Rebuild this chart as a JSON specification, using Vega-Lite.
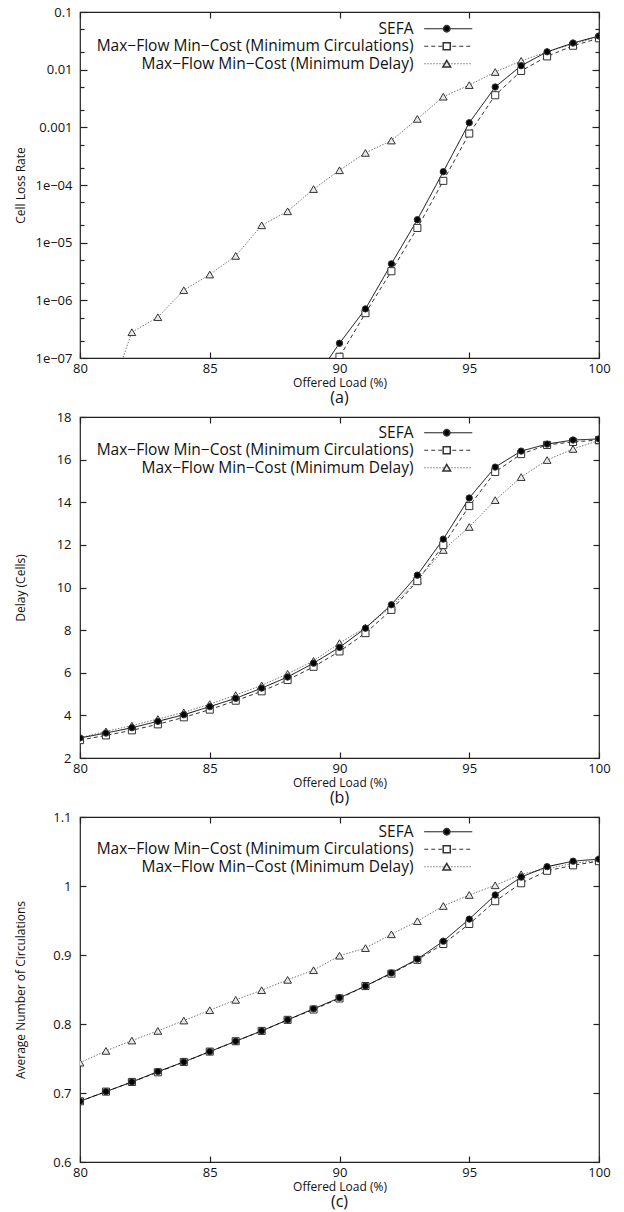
{
  "$schema": "https://vega.github.io/schema/vega-lite/v6.json",
  "background": "white",
  "padding": {"left": 13, "top": 5, "right": 5, "bottom": 0},
  "bounds": "flush",
  "spacing": 59,
  "datasets": {
    "loss": [
      {"load": 81, "value": 1.5e-8, "series": "Max−Flow Min−Cost (Minimum Delay)", "marker": "open triangle"},
      {"load": 82, "value": 2.8e-7, "series": "Max−Flow Min−Cost (Minimum Delay)", "marker": "open triangle"},
      {"load": 83, "value": 5.1e-7, "series": "Max−Flow Min−Cost (Minimum Delay)", "marker": "open triangle"},
      {"load": 84, "value": 1.5e-6, "series": "Max−Flow Min−Cost (Minimum Delay)", "marker": "open triangle"},
      {"load": 85, "value": 2.8e-6, "series": "Max−Flow Min−Cost (Minimum Delay)", "marker": "open triangle"},
      {"load": 86, "value": 5.9e-6, "series": "Max−Flow Min−Cost (Minimum Delay)", "marker": "open triangle"},
      {"load": 87, "value": 2.0e-5, "series": "Max−Flow Min−Cost (Minimum Delay)", "marker": "open triangle"},
      {"load": 88, "value": 3.5e-5, "series": "Max−Flow Min−Cost (Minimum Delay)", "marker": "open triangle"},
      {"load": 89, "value": 8.5e-5, "series": "Max−Flow Min−Cost (Minimum Delay)", "marker": "open triangle"},
      {"load": 90, "value": 1.8e-4, "series": "Max−Flow Min−Cost (Minimum Delay)", "marker": "open triangle"},
      {"load": 91, "value": 3.6e-4, "series": "Max−Flow Min−Cost (Minimum Delay)", "marker": "open triangle"},
      {"load": 92, "value": 5.9e-4, "series": "Max−Flow Min−Cost (Minimum Delay)", "marker": "open triangle"},
      {"load": 93, "value": 1.4e-3, "series": "Max−Flow Min−Cost (Minimum Delay)", "marker": "open triangle"},
      {"load": 94, "value": 3.4e-3, "series": "Max−Flow Min−Cost (Minimum Delay)", "marker": "open triangle"},
      {"load": 95, "value": 5.4e-3, "series": "Max−Flow Min−Cost (Minimum Delay)", "marker": "open triangle"},
      {"load": 96, "value": 9.1e-3, "series": "Max−Flow Min−Cost (Minimum Delay)", "marker": "open triangle"},
      {"load": 97, "value": 0.0142, "series": "Max−Flow Min−Cost (Minimum Delay)", "marker": "open triangle"},
      {"load": 98, "value": 0.0204, "series": "Max−Flow Min−Cost (Minimum Delay)", "marker": "open triangle"},
      {"load": 99, "value": 0.028, "series": "Max−Flow Min−Cost (Minimum Delay)", "marker": "open triangle"},
      {"load": 100, "value": 0.037, "series": "Max−Flow Min−Cost (Minimum Delay)", "marker": "open triangle"},
      {"load": 89, "value": 1.5e-8, "series": "Max−Flow Min−Cost (Minimum Circulations)", "marker": "open square"},
      {"load": 90, "value": 1.05e-7, "series": "Max−Flow Min−Cost (Minimum Circulations)", "marker": "open square"},
      {"load": 91, "value": 6.0e-7, "series": "Max−Flow Min−Cost (Minimum Circulations)", "marker": "open square"},
      {"load": 92, "value": 3.2e-6, "series": "Max−Flow Min−Cost (Minimum Circulations)", "marker": "open square"},
      {"load": 93, "value": 1.8e-5, "series": "Max−Flow Min−Cost (Minimum Circulations)", "marker": "open square"},
      {"load": 94, "value": 1.18e-4, "series": "Max−Flow Min−Cost (Minimum Circulations)", "marker": "open square"},
      {"load": 95, "value": 7.8e-4, "series": "Max−Flow Min−Cost (Minimum Circulations)", "marker": "open square"},
      {"load": 96, "value": 3.6e-3, "series": "Max−Flow Min−Cost (Minimum Circulations)", "marker": "open square"},
      {"load": 97, "value": 0.0095, "series": "Max−Flow Min−Cost (Minimum Circulations)", "marker": "open square"},
      {"load": 98, "value": 0.017, "series": "Max−Flow Min−Cost (Minimum Circulations)", "marker": "open square"},
      {"load": 99, "value": 0.026, "series": "Max−Flow Min−Cost (Minimum Circulations)", "marker": "open square"},
      {"load": 100, "value": 0.035, "series": "Max−Flow Min−Cost (Minimum Circulations)", "marker": "open square"},
      {"load": 89, "value": 4e-8, "series": "SEFA", "marker": "filled circle"},
      {"load": 90, "value": 1.8e-7, "series": "SEFA", "marker": "filled circle"},
      {"load": 91, "value": 7.1e-7, "series": "SEFA", "marker": "filled circle"},
      {"load": 92, "value": 4.3e-6, "series": "SEFA", "marker": "filled circle"},
      {"load": 93, "value": 2.5e-5, "series": "SEFA", "marker": "filled circle"},
      {"load": 94, "value": 1.7e-4, "series": "SEFA", "marker": "filled circle"},
      {"load": 95, "value": 1.2e-3, "series": "SEFA", "marker": "filled circle"},
      {"load": 96, "value": 5.0e-3, "series": "SEFA", "marker": "filled circle"},
      {"load": 97, "value": 0.0117, "series": "SEFA", "marker": "filled circle"},
      {"load": 98, "value": 0.0204, "series": "SEFA", "marker": "filled circle"},
      {"load": 99, "value": 0.029, "series": "SEFA", "marker": "filled circle"},
      {"load": 100, "value": 0.0384, "series": "SEFA", "marker": "filled circle"}
    ],
    "delay": [
      {"load": 80, "value": 2.95, "series": "Max−Flow Min−Cost (Minimum Delay)", "marker": "open triangle"},
      {"load": 81, "value": 3.25, "series": "Max−Flow Min−Cost (Minimum Delay)", "marker": "open triangle"},
      {"load": 82, "value": 3.52, "series": "Max−Flow Min−Cost (Minimum Delay)", "marker": "open triangle"},
      {"load": 83, "value": 3.83, "series": "Max−Flow Min−Cost (Minimum Delay)", "marker": "open triangle"},
      {"load": 84, "value": 4.14, "series": "Max−Flow Min−Cost (Minimum Delay)", "marker": "open triangle"},
      {"load": 85, "value": 4.53, "series": "Max−Flow Min−Cost (Minimum Delay)", "marker": "open triangle"},
      {"load": 86, "value": 4.95, "series": "Max−Flow Min−Cost (Minimum Delay)", "marker": "open triangle"},
      {"load": 87, "value": 5.41, "series": "Max−Flow Min−Cost (Minimum Delay)", "marker": "open triangle"},
      {"load": 88, "value": 5.95, "series": "Max−Flow Min−Cost (Minimum Delay)", "marker": "open triangle"},
      {"load": 89, "value": 6.56, "series": "Max−Flow Min−Cost (Minimum Delay)", "marker": "open triangle"},
      {"load": 90, "value": 7.39, "series": "Max−Flow Min−Cost (Minimum Delay)", "marker": "open triangle"},
      {"load": 91, "value": 8.12, "series": "Max−Flow Min−Cost (Minimum Delay)", "marker": "open triangle"},
      {"load": 92, "value": 9.1, "series": "Max−Flow Min−Cost (Minimum Delay)", "marker": "open triangle"},
      {"load": 93, "value": 10.35, "series": "Max−Flow Min−Cost (Minimum Delay)", "marker": "open triangle"},
      {"load": 94, "value": 11.76, "series": "Max−Flow Min−Cost (Minimum Delay)", "marker": "open triangle"},
      {"load": 95, "value": 12.84, "series": "Max−Flow Min−Cost (Minimum Delay)", "marker": "open triangle"},
      {"load": 96, "value": 14.1, "series": "Max−Flow Min−Cost (Minimum Delay)", "marker": "open triangle"},
      {"load": 97, "value": 15.18, "series": "Max−Flow Min−Cost (Minimum Delay)", "marker": "open triangle"},
      {"load": 98, "value": 15.98, "series": "Max−Flow Min−Cost (Minimum Delay)", "marker": "open triangle"},
      {"load": 99, "value": 16.5, "series": "Max−Flow Min−Cost (Minimum Delay)", "marker": "open triangle"},
      {"load": 100, "value": 16.9, "series": "Max−Flow Min−Cost (Minimum Delay)", "marker": "open triangle"},
      {"load": 80, "value": 2.84, "series": "Max−Flow Min−Cost (Minimum Circulations)", "marker": "open square"},
      {"load": 81, "value": 3.06, "series": "Max−Flow Min−Cost (Minimum Circulations)", "marker": "open square"},
      {"load": 82, "value": 3.30, "series": "Max−Flow Min−Cost (Minimum Circulations)", "marker": "open square"},
      {"load": 83, "value": 3.58, "series": "Max−Flow Min−Cost (Minimum Circulations)", "marker": "open square"},
      {"load": 84, "value": 3.91, "series": "Max−Flow Min−Cost (Minimum Circulations)", "marker": "open square"},
      {"load": 85, "value": 4.27, "series": "Max−Flow Min−Cost (Minimum Circulations)", "marker": "open square"},
      {"load": 86, "value": 4.69, "series": "Max−Flow Min−Cost (Minimum Circulations)", "marker": "open square"},
      {"load": 87, "value": 5.13, "series": "Max−Flow Min−Cost (Minimum Circulations)", "marker": "open square"},
      {"load": 88, "value": 5.66, "series": "Max−Flow Min−Cost (Minimum Circulations)", "marker": "open square"},
      {"load": 89, "value": 6.28, "series": "Max−Flow Min−Cost (Minimum Circulations)", "marker": "open square"},
      {"load": 90, "value": 7.0, "series": "Max−Flow Min−Cost (Minimum Circulations)", "marker": "open square"},
      {"load": 91, "value": 7.86, "series": "Max−Flow Min−Cost (Minimum Circulations)", "marker": "open square"},
      {"load": 92, "value": 8.95, "series": "Max−Flow Min−Cost (Minimum Circulations)", "marker": "open square"},
      {"load": 93, "value": 10.3, "series": "Max−Flow Min−Cost (Minimum Circulations)", "marker": "open square"},
      {"load": 94, "value": 11.99, "series": "Max−Flow Min−Cost (Minimum Circulations)", "marker": "open square"},
      {"load": 95, "value": 13.82, "series": "Max−Flow Min−Cost (Minimum Circulations)", "marker": "open square"},
      {"load": 96, "value": 15.42, "series": "Max−Flow Min−Cost (Minimum Circulations)", "marker": "open square"},
      {"load": 97, "value": 16.26, "series": "Max−Flow Min−Cost (Minimum Circulations)", "marker": "open square"},
      {"load": 98, "value": 16.69, "series": "Max−Flow Min−Cost (Minimum Circulations)", "marker": "open square"},
      {"load": 99, "value": 16.83, "series": "Max−Flow Min−Cost (Minimum Circulations)", "marker": "open square"},
      {"load": 100, "value": 16.92, "series": "Max−Flow Min−Cost (Minimum Circulations)", "marker": "open square"},
      {"load": 80, "value": 2.94, "series": "SEFA", "marker": "filled circle"},
      {"load": 81, "value": 3.17, "series": "SEFA", "marker": "filled circle"},
      {"load": 82, "value": 3.42, "series": "SEFA", "marker": "filled circle"},
      {"load": 83, "value": 3.72, "series": "SEFA", "marker": "filled circle"},
      {"load": 84, "value": 4.03, "series": "SEFA", "marker": "filled circle"},
      {"load": 85, "value": 4.41, "series": "SEFA", "marker": "filled circle"},
      {"load": 86, "value": 4.80, "series": "SEFA", "marker": "filled circle"},
      {"load": 87, "value": 5.28, "series": "SEFA", "marker": "filled circle"},
      {"load": 88, "value": 5.80, "series": "SEFA", "marker": "filled circle"},
      {"load": 89, "value": 6.45, "series": "SEFA", "marker": "filled circle"},
      {"load": 90, "value": 7.19, "series": "SEFA", "marker": "filled circle"},
      {"load": 91, "value": 8.09, "series": "SEFA", "marker": "filled circle"},
      {"load": 92, "value": 9.19, "series": "SEFA", "marker": "filled circle"},
      {"load": 93, "value": 10.58, "series": "SEFA", "marker": "filled circle"},
      {"load": 94, "value": 12.27, "series": "SEFA", "marker": "filled circle"},
      {"load": 95, "value": 14.2, "series": "SEFA", "marker": "filled circle"},
      {"load": 96, "value": 15.65, "series": "SEFA", "marker": "filled circle"},
      {"load": 97, "value": 16.4, "series": "SEFA", "marker": "filled circle"},
      {"load": 98, "value": 16.73, "series": "SEFA", "marker": "filled circle"},
      {"load": 99, "value": 16.92, "series": "SEFA", "marker": "filled circle"},
      {"load": 100, "value": 16.97, "series": "SEFA", "marker": "filled circle"}
    ],
    "circ": [
      {"load": 80, "value": 0.744, "series": "Max−Flow Min−Cost (Minimum Delay)", "marker": "open triangle"},
      {"load": 81, "value": 0.761, "series": "Max−Flow Min−Cost (Minimum Delay)", "marker": "open triangle"},
      {"load": 82, "value": 0.776, "series": "Max−Flow Min−Cost (Minimum Delay)", "marker": "open triangle"},
      {"load": 83, "value": 0.790, "series": "Max−Flow Min−Cost (Minimum Delay)", "marker": "open triangle"},
      {"load": 84, "value": 0.805, "series": "Max−Flow Min−Cost (Minimum Delay)", "marker": "open triangle"},
      {"load": 85, "value": 0.820, "series": "Max−Flow Min−Cost (Minimum Delay)", "marker": "open triangle"},
      {"load": 86, "value": 0.835, "series": "Max−Flow Min−Cost (Minimum Delay)", "marker": "open triangle"},
      {"load": 87, "value": 0.849, "series": "Max−Flow Min−Cost (Minimum Delay)", "marker": "open triangle"},
      {"load": 88, "value": 0.864, "series": "Max−Flow Min−Cost (Minimum Delay)", "marker": "open triangle"},
      {"load": 89, "value": 0.878, "series": "Max−Flow Min−Cost (Minimum Delay)", "marker": "open triangle"},
      {"load": 90, "value": 0.899, "series": "Max−Flow Min−Cost (Minimum Delay)", "marker": "open triangle"},
      {"load": 91, "value": 0.910, "series": "Max−Flow Min−Cost (Minimum Delay)", "marker": "open triangle"},
      {"load": 92, "value": 0.930, "series": "Max−Flow Min−Cost (Minimum Delay)", "marker": "open triangle"},
      {"load": 93, "value": 0.949, "series": "Max−Flow Min−Cost (Minimum Delay)", "marker": "open triangle"},
      {"load": 94, "value": 0.971, "series": "Max−Flow Min−Cost (Minimum Delay)", "marker": "open triangle"},
      {"load": 95, "value": 0.987, "series": "Max−Flow Min−Cost (Minimum Delay)", "marker": "open triangle"},
      {"load": 96, "value": 1.001, "series": "Max−Flow Min−Cost (Minimum Delay)", "marker": "open triangle"},
      {"load": 97, "value": 1.017, "series": "Max−Flow Min−Cost (Minimum Delay)", "marker": "open triangle"},
      {"load": 98, "value": 1.025, "series": "Max−Flow Min−Cost (Minimum Delay)", "marker": "open triangle"},
      {"load": 99, "value": 1.033, "series": "Max−Flow Min−Cost (Minimum Delay)", "marker": "open triangle"},
      {"load": 100, "value": 1.037, "series": "Max−Flow Min−Cost (Minimum Delay)", "marker": "open triangle"},
      {"load": 80, "value": 0.688, "series": "Max−Flow Min−Cost (Minimum Circulations)", "marker": "open square"},
      {"load": 81, "value": 0.702, "series": "Max−Flow Min−Cost (Minimum Circulations)", "marker": "open square"},
      {"load": 82, "value": 0.716, "series": "Max−Flow Min−Cost (Minimum Circulations)", "marker": "open square"},
      {"load": 83, "value": 0.730, "series": "Max−Flow Min−Cost (Minimum Circulations)", "marker": "open square"},
      {"load": 84, "value": 0.745, "series": "Max−Flow Min−Cost (Minimum Circulations)", "marker": "open square"},
      {"load": 85, "value": 0.760, "series": "Max−Flow Min−Cost (Minimum Circulations)", "marker": "open square"},
      {"load": 86, "value": 0.775, "series": "Max−Flow Min−Cost (Minimum Circulations)", "marker": "open square"},
      {"load": 87, "value": 0.790, "series": "Max−Flow Min−Cost (Minimum Circulations)", "marker": "open square"},
      {"load": 88, "value": 0.806, "series": "Max−Flow Min−Cost (Minimum Circulations)", "marker": "open square"},
      {"load": 89, "value": 0.821, "series": "Max−Flow Min−Cost (Minimum Circulations)", "marker": "open square"},
      {"load": 90, "value": 0.837, "series": "Max−Flow Min−Cost (Minimum Circulations)", "marker": "open square"},
      {"load": 91, "value": 0.855, "series": "Max−Flow Min−Cost (Minimum Circulations)", "marker": "open square"},
      {"load": 92, "value": 0.873, "series": "Max−Flow Min−Cost (Minimum Circulations)", "marker": "open square"},
      {"load": 93, "value": 0.893, "series": "Max−Flow Min−Cost (Minimum Circulations)", "marker": "open square"},
      {"load": 94, "value": 0.916, "series": "Max−Flow Min−Cost (Minimum Circulations)", "marker": "open square"},
      {"load": 95, "value": 0.945, "series": "Max−Flow Min−Cost (Minimum Circulations)", "marker": "open square"},
      {"load": 96, "value": 0.978, "series": "Max−Flow Min−Cost (Minimum Circulations)", "marker": "open square"},
      {"load": 97, "value": 1.004, "series": "Max−Flow Min−Cost (Minimum Circulations)", "marker": "open square"},
      {"load": 98, "value": 1.022, "series": "Max−Flow Min−Cost (Minimum Circulations)", "marker": "open square"},
      {"load": 99, "value": 1.030, "series": "Max−Flow Min−Cost (Minimum Circulations)", "marker": "open square"},
      {"load": 100, "value": 1.036, "series": "Max−Flow Min−Cost (Minimum Circulations)", "marker": "open square"},
      {"load": 80, "value": 0.688, "series": "SEFA", "marker": "filled circle"},
      {"load": 81, "value": 0.702, "series": "SEFA", "marker": "filled circle"},
      {"load": 82, "value": 0.716, "series": "SEFA", "marker": "filled circle"},
      {"load": 83, "value": 0.731, "series": "SEFA", "marker": "filled circle"},
      {"load": 84, "value": 0.745, "series": "SEFA", "marker": "filled circle"},
      {"load": 85, "value": 0.760, "series": "SEFA", "marker": "filled circle"},
      {"load": 86, "value": 0.775, "series": "SEFA", "marker": "filled circle"},
      {"load": 87, "value": 0.790, "series": "SEFA", "marker": "filled circle"},
      {"load": 88, "value": 0.806, "series": "SEFA", "marker": "filled circle"},
      {"load": 89, "value": 0.822, "series": "SEFA", "marker": "filled circle"},
      {"load": 90, "value": 0.838, "series": "SEFA", "marker": "filled circle"},
      {"load": 91, "value": 0.855, "series": "SEFA", "marker": "filled circle"},
      {"load": 92, "value": 0.874, "series": "SEFA", "marker": "filled circle"},
      {"load": 93, "value": 0.894, "series": "SEFA", "marker": "filled circle"},
      {"load": 94, "value": 0.920, "series": "SEFA", "marker": "filled circle"},
      {"load": 95, "value": 0.952, "series": "SEFA", "marker": "filled circle"},
      {"load": 96, "value": 0.987, "series": "SEFA", "marker": "filled circle"},
      {"load": 97, "value": 1.013, "series": "SEFA", "marker": "filled circle"},
      {"load": 98, "value": 1.028, "series": "SEFA", "marker": "filled circle"},
      {"load": 99, "value": 1.036, "series": "SEFA", "marker": "filled circle"},
      {"load": 100, "value": 1.039, "series": "SEFA", "marker": "filled circle"}
    ]
  },
  "vconcat": [
    {
      "width": 519,
      "height": 346,
      "data": {"name": "loss"},
      "title": {"text": "(a)", "orient": "bottom", "fontSize": 16, "fontWeight": "normal", "offset": 2, "anchor": "middle"},
      "layer": [
        {
          "mark": {"type": "line", "clip": true, "strokeWidth": 1},
          "encoding": {
            "x": {"field": "load", "type": "quantitative", "scale": {"domain": [80, 100], "nice": false, "zero": false},
              "axis": {"title": "Offered Load (%)", "values": [80, 85, 90, 95, 100], "tickSize": -6, "labelPadding": 10, "titleY": 24, "titleBaseline": "middle"}},
            "y": {"field": "value", "type": "quantitative", "scale": {"type": "log", "domain": [1e-7, 0.1], "nice": false},
              "axis": {"title": "Cell Loss Rate", "titleX": -60, "titleBaseline": "middle", "labelPadding": 15,
                "values": [1e-7, 2e-7, 5e-7, 1e-6, 2e-6, 5e-6, 1e-5, 2e-5, 5e-5, 1e-4, 2e-4, 5e-4, 0.001, 0.002, 0.005, 0.01, 0.02, 0.05, 0.1],
                "labelExpr": "abs(log(datum.value)/LN10 - round(log(datum.value)/LN10)) < 0.01 ? (datum.value >= 0.001 ? format(datum.value, '~g') : '1e−0' + format(-round(log(datum.value)/LN10), 'd')) : ''",
                "tickSize": {"condition": {"test": "abs(log(datum.value)/LN10 - round(log(datum.value)/LN10)) < 0.01", "value": -7}, "value": -4}}},
            "stroke": {"field": "series", "type": "nominal",
              "scale": {"domain": ["SEFA", "Max−Flow Min−Cost (Minimum Circulations)", "Max−Flow Min−Cost (Minimum Delay)"], "range": ["#000000", "#333333", "#777777"]},
              "legend": {"title": null, "orient": "none", "legendX": 360.5, "legendY": 9, "labelAlign": "right", "labelOffset": -42.5, "labelLimit": 500, "labelFontSize": 15.5, "symbolType": "M-8,0H8", "symbolSize": 36, "symbolStrokeWidth": 1, "rowPadding": 0.5, "padding": 0}},
            "strokeDash": {"field": "series", "type": "nominal",
              "scale": {"domain": ["SEFA", "Max−Flow Min−Cost (Minimum Circulations)", "Max−Flow Min−Cost (Minimum Delay)"], "range": [[1, 0], [4, 3], [1.5, 1.5]]},
              "legend": {"title": null, "orient": "none", "legendX": 360.5, "legendY": 9, "labelAlign": "right", "labelOffset": -42.5, "labelLimit": 500, "labelFontSize": 15.5, "symbolType": "M-8,0H8", "symbolSize": 36, "symbolStrokeWidth": 1, "rowPadding": 0.5, "padding": 0}}
          }
        },
        {
          "mark": {"type": "point", "clip": true, "filled": true, "stroke": "#333333", "strokeWidth": 1, "opacity": 1},
          "encoding": {
            "x": {"field": "load", "type": "quantitative", "axis": {"orient": "top", "labels": false, "title": null, "values": [80, 85, 90, 95, 100], "tickSize": -6}},
            "y": {"field": "value", "type": "quantitative",
              "axis": {"orient": "right", "labels": false, "title": null,
                "values": [1e-7, 2e-7, 5e-7, 1e-6, 2e-6, 5e-6, 1e-5, 2e-5, 5e-5, 1e-4, 2e-4, 5e-4, 0.001, 0.002, 0.005, 0.01, 0.02, 0.05, 0.1],
                "tickSize": {"condition": {"test": "abs(log(datum.value)/LN10 - round(log(datum.value)/LN10)) < 0.01", "value": -7}, "value": -4}}},
            "shape": {"field": "marker", "type": "nominal", "scale": {"domain": ["filled circle", "open square", "open triangle"], "range": ["circle", "square", "triangle-up"]},
              "legend": {"title": null, "orient": "none", "legendX": 359, "legendY": 9, "labelExpr": "''", "labelFontSize": 15.5, "rowPadding": 0.5, "padding": 0, "encode": {"symbols": {"update": {"stroke": {"value": "#333333"}, "strokeWidth": {"value": 1}}}}}},
            "fill": {"field": "marker", "type": "nominal", "scale": {"domain": ["filled circle", "open square", "open triangle"], "range": ["#000000", "#ffffff", "#e8e8e8"]},
              "legend": {"title": null, "orient": "none", "legendX": 359, "legendY": 9, "labelExpr": "''", "labelFontSize": 15.5, "rowPadding": 0.5, "padding": 0, "encode": {"symbols": {"update": {"stroke": {"value": "#333333"}, "strokeWidth": {"value": 1}}}}}},
            "size": {"field": "marker", "type": "nominal", "scale": {"domain": ["filled circle", "open square", "open triangle"], "range": [40, 60, 60]},
              "legend": {"title": null, "orient": "none", "legendX": 359, "legendY": 9, "labelExpr": "''", "labelFontSize": 15.5, "rowPadding": 0.5, "padding": 0, "encode": {"symbols": {"update": {"stroke": {"value": "#333333"}, "strokeWidth": {"value": 1}}}}}}
          }
        }
      ],
      "resolve": {"axis": {"x": "independent", "y": "independent"}}
    },
    {
      "width": 519,
      "height": 341,
      "data": {"name": "delay"},
      "title": {"text": "(b)", "orient": "bottom", "fontSize": 16, "fontWeight": "normal", "offset": 2, "anchor": "middle"},
      "layer": [
        {
          "mark": {"type": "line", "clip": true, "strokeWidth": 1},
          "encoding": {
            "x": {"field": "load", "type": "quantitative", "scale": {"domain": [80, 100], "nice": false, "zero": false},
              "axis": {"title": "Offered Load (%)", "values": [80, 85, 90, 95, 100], "tickSize": -6, "labelPadding": 10, "titleY": 24, "titleBaseline": "middle"}},
            "y": {"field": "value", "type": "quantitative", "scale": {"domain": [2, 18], "nice": false, "zero": false},
              "axis": {"title": "Delay (Cells)", "titleX": -60, "titleBaseline": "middle", "labelPadding": 15, "values": [2, 4, 6, 8, 10, 12, 14, 16, 18], "tickSize": -6}},
            "stroke": {"field": "series", "type": "nominal",
              "scale": {"domain": ["SEFA", "Max−Flow Min−Cost (Minimum Circulations)", "Max−Flow Min−Cost (Minimum Delay)"], "range": ["#000000", "#333333", "#777777"]},
              "legend": {"title": null, "orient": "none", "legendX": 360.5, "legendY": 8, "labelAlign": "right", "labelOffset": -42.5, "labelLimit": 500, "labelFontSize": 15.5, "symbolType": "M-8,0H8", "symbolSize": 36, "symbolStrokeWidth": 1, "rowPadding": 0.5, "padding": 0}},
            "strokeDash": {"field": "series", "type": "nominal",
              "scale": {"domain": ["SEFA", "Max−Flow Min−Cost (Minimum Circulations)", "Max−Flow Min−Cost (Minimum Delay)"], "range": [[1, 0], [4, 3], [1.5, 1.5]]},
              "legend": {"title": null, "orient": "none", "legendX": 360.5, "legendY": 8, "labelAlign": "right", "labelOffset": -42.5, "labelLimit": 500, "labelFontSize": 15.5, "symbolType": "M-8,0H8", "symbolSize": 36, "symbolStrokeWidth": 1, "rowPadding": 0.5, "padding": 0}}
          }
        },
        {
          "mark": {"type": "point", "clip": true, "filled": true, "stroke": "#333333", "strokeWidth": 1, "opacity": 1},
          "encoding": {
            "x": {"field": "load", "type": "quantitative", "axis": {"orient": "top", "labels": false, "title": null, "values": [80, 85, 90, 95, 100], "tickSize": -6}},
            "y": {"field": "value", "type": "quantitative", "axis": {"orient": "right", "labels": false, "title": null, "values": [2, 4, 6, 8, 10, 12, 14, 16, 18], "tickSize": -6}},
            "shape": {"field": "marker", "type": "nominal", "scale": {"domain": ["filled circle", "open square", "open triangle"], "range": ["circle", "square", "triangle-up"]},
              "legend": {"title": null, "orient": "none", "legendX": 359, "legendY": 8, "labelExpr": "''", "labelFontSize": 15.5, "rowPadding": 0.5, "padding": 0, "encode": {"symbols": {"update": {"stroke": {"value": "#333333"}, "strokeWidth": {"value": 1}}}}}},
            "fill": {"field": "marker", "type": "nominal", "scale": {"domain": ["filled circle", "open square", "open triangle"], "range": ["#000000", "#ffffff", "#e8e8e8"]},
              "legend": {"title": null, "orient": "none", "legendX": 359, "legendY": 8, "labelExpr": "''", "labelFontSize": 15.5, "rowPadding": 0.5, "padding": 0, "encode": {"symbols": {"update": {"stroke": {"value": "#333333"}, "strokeWidth": {"value": 1}}}}}},
            "size": {"field": "marker", "type": "nominal", "scale": {"domain": ["filled circle", "open square", "open triangle"], "range": [40, 60, 60]},
              "legend": {"title": null, "orient": "none", "legendX": 359, "legendY": 8, "labelExpr": "''", "labelFontSize": 15.5, "rowPadding": 0.5, "padding": 0, "encode": {"symbols": {"update": {"stroke": {"value": "#333333"}, "strokeWidth": {"value": 1}}}}}}
          }
        }
      ],
      "resolve": {"axis": {"x": "independent", "y": "independent"}}
    },
    {
      "width": 519,
      "height": 345,
      "data": {"name": "circ"},
      "title": {"text": "(c)", "orient": "bottom", "fontSize": 16, "fontWeight": "normal", "offset": 2, "anchor": "middle"},
      "layer": [
        {
          "mark": {"type": "line", "clip": true, "strokeWidth": 1},
          "encoding": {
            "x": {"field": "load", "type": "quantitative", "scale": {"domain": [80, 100], "nice": false, "zero": false},
              "axis": {"title": "Offered Load (%)", "values": [80, 85, 90, 95, 100], "tickSize": -6, "labelPadding": 10, "titleY": 24, "titleBaseline": "middle"}},
            "y": {"field": "value", "type": "quantitative", "scale": {"domain": [0.6, 1.1], "nice": false, "zero": false},
              "axis": {"title": "Average Number of Circulations", "titleX": -60, "titleBaseline": "middle", "labelPadding": 15, "values": [0.6, 0.7, 0.8, 0.9, 1.0, 1.1], "format": "~g", "tickSize": -6}},
            "stroke": {"field": "series", "type": "nominal",
              "scale": {"domain": ["SEFA", "Max−Flow Min−Cost (Minimum Circulations)", "Max−Flow Min−Cost (Minimum Delay)"], "range": ["#000000", "#333333", "#777777"]},
              "legend": {"title": null, "orient": "none", "legendX": 360.5, "legendY": 7, "labelAlign": "right", "labelOffset": -42.5, "labelLimit": 500, "labelFontSize": 15.5, "symbolType": "M-8,0H8", "symbolSize": 36, "symbolStrokeWidth": 1, "rowPadding": 0.5, "padding": 0}},
            "strokeDash": {"field": "series", "type": "nominal",
              "scale": {"domain": ["SEFA", "Max−Flow Min−Cost (Minimum Circulations)", "Max−Flow Min−Cost (Minimum Delay)"], "range": [[1, 0], [4, 3], [1.5, 1.5]]},
              "legend": {"title": null, "orient": "none", "legendX": 360.5, "legendY": 7, "labelAlign": "right", "labelOffset": -42.5, "labelLimit": 500, "labelFontSize": 15.5, "symbolType": "M-8,0H8", "symbolSize": 36, "symbolStrokeWidth": 1, "rowPadding": 0.5, "padding": 0}}
          }
        },
        {
          "mark": {"type": "point", "clip": true, "filled": true, "stroke": "#333333", "strokeWidth": 1, "opacity": 1},
          "encoding": {
            "x": {"field": "load", "type": "quantitative", "axis": {"orient": "top", "labels": false, "title": null, "values": [80, 85, 90, 95, 100], "tickSize": -6}},
            "y": {"field": "value", "type": "quantitative", "axis": {"orient": "right", "labels": false, "title": null, "values": [0.6, 0.7, 0.8, 0.9, 1.0, 1.1], "tickSize": -6}},
            "shape": {"field": "marker", "type": "nominal", "scale": {"domain": ["filled circle", "open square", "open triangle"], "range": ["circle", "square", "triangle-up"]},
              "legend": {"title": null, "orient": "none", "legendX": 359, "legendY": 7, "labelExpr": "''", "labelFontSize": 15.5, "rowPadding": 0.5, "padding": 0, "encode": {"symbols": {"update": {"stroke": {"value": "#333333"}, "strokeWidth": {"value": 1}}}}}},
            "fill": {"field": "marker", "type": "nominal", "scale": {"domain": ["filled circle", "open square", "open triangle"], "range": ["#000000", "#ffffff", "#e8e8e8"]},
              "legend": {"title": null, "orient": "none", "legendX": 359, "legendY": 7, "labelExpr": "''", "labelFontSize": 15.5, "rowPadding": 0.5, "padding": 0, "encode": {"symbols": {"update": {"stroke": {"value": "#333333"}, "strokeWidth": {"value": 1}}}}}},
            "size": {"field": "marker", "type": "nominal", "scale": {"domain": ["filled circle", "open square", "open triangle"], "range": [40, 60, 60]},
              "legend": {"title": null, "orient": "none", "legendX": 359, "legendY": 7, "labelExpr": "''", "labelFontSize": 15.5, "rowPadding": 0.5, "padding": 0, "encode": {"symbols": {"update": {"stroke": {"value": "#333333"}, "strokeWidth": {"value": 1}}}}}}
          }
        }
      ],
      "resolve": {"axis": {"x": "independent", "y": "independent"}}
    }
  ],
  "resolve": {
    "scale": {"stroke": "independent", "strokeDash": "independent", "shape": "independent", "fill": "independent", "size": "independent"},
    "legend": {"stroke": "independent", "strokeDash": "independent", "shape": "independent", "fill": "independent", "size": "independent"}
  },
  "config": {
    "font": "Open Sans",
    "view": {"stroke": "#222222", "strokeWidth": 1.2},
    "title": {"color": "#111111"},
    "legend": {"labelColor": "#111111"},
    "axis": {"domain": false, "grid": false, "tickColor": "#222222", "tickWidth": 1.2, "labelColor": "#111111", "titleColor": "#111111", "labelFontSize": 13, "titleFontSize": 12, "titleFontWeight": "normal", "labelFlush": false, "labelOverlap": false}
  }
}
